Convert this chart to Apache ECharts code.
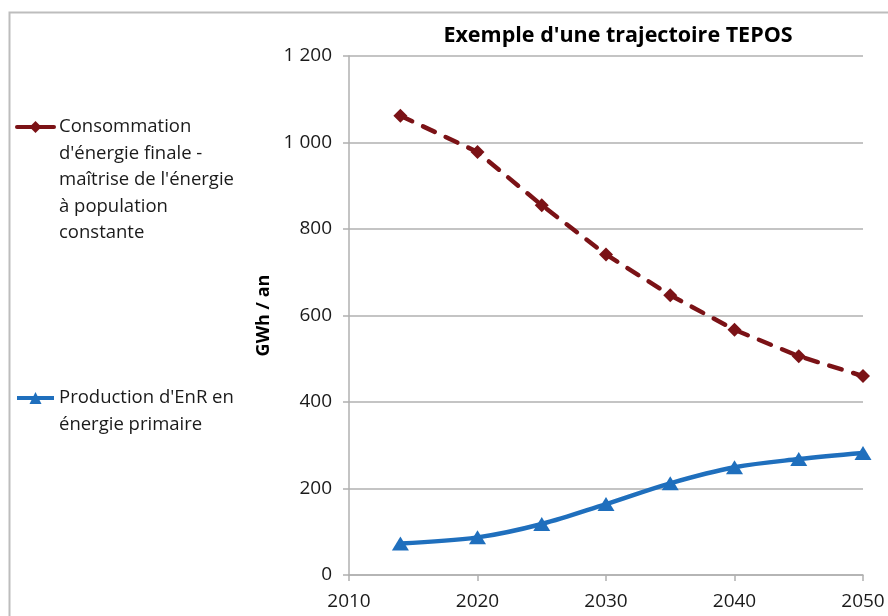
<!DOCTYPE html>
<html>
<head>
<meta charset="utf-8">
<script src="https://cdn.jsdelivr.net/npm/echarts@6/dist/echarts.min.js"></script>
<style>html,body{margin:0;padding:0;background:#fff}#c{width:888px;height:616px}</style>
</head>
<body>
<div id="c"></div>
<script>
const years = [2014, 2020, 2025, 2030, 2035, 2040, 2045, 2050];
const consommation = [1062, 978, 855, 741, 647, 567, 506, 460];
const production = [73, 87, 118, 164, 212, 249, 268, 282];
const nameConso = "Consommation d'énergie finale - maîtrise de l'énergie à population constante";
const nameProd = "Production d'EnR en énergie primaire";
const legendConsoLines = ["Consommation", "d'énergie finale -", "maîtrise de l'énergie", "à population", "constante"];
const legendProdLines = ["Production d'EnR en", "énergie primaire"];
const title = "Exemple d'une trajectoire TEPOS";
const yName = "GWh / an";

const FONT = "Open Sans";
const LH = 26.5;
const red = "#7b1216";
const blue = "#1f6fbd";
const grey = "#b0b0b0";

function legendFor(name, lines, iconY) {
  const n = lines.length;
  // blank lines before so that the icon sits on the first text line
  const padded = new Array(n - 1).fill('').concat(lines);
  const total = padded.length * LH;
  return {
    data: [name],
    left: 15,
    top: iconY - total / 2,
    orient: 'vertical',
    padding: 0,
    itemWidth: 37,
    itemHeight: 15,
    itemGap: 0,
    selectedMode: false,
    lineStyle: { type: 'solid', width: 4 },
    formatter: () => padded.join('\n'),
    textStyle: {
      fontFamily: FONT, fontSize: 18.5, color: '#1a1a1a',
      lineHeight: LH
    }
  };
}

const chart = echarts.init(document.getElementById('c'), null, { renderer: 'canvas' });
chart.setOption({
  animation: false,
  backgroundColor: '#fff',
  title: {
    text: title, left: 613, top: 20, textAlign: 'center',
    textStyle: { fontFamily: FONT, fontSize: 21.5, fontWeight: 'bold', color: '#000' }
  },
  graphic: [{
    type: 'rect', left: 7, top: 10, silent: true,
    shape: { width: 900, height: 700 },
    style: { fill: 'none', stroke: '#bdbdbd', lineWidth: 2 }
  }],
  legend: [legendFor(nameConso, legendConsoLines, 127), legendFor(nameProd, legendProdLines, 398)],
  grid: { left: 349, right: 25, top: 56, bottom: 41 },
  xAxis: {
    type: 'value', min: 2010, max: 2050, interval: 10,
    axisLine: { show: true, onZero: false, lineStyle: { color: grey, width: 1.5 } },
    axisTick: { show: true, length: 6, lineStyle: { color: grey, width: 1.5 } },
    splitLine: { show: false },
    axisLabel: { fontFamily: FONT, fontSize: 19, color: '#1a1a1a', margin: 17, formatter: v => String(v) }
  },
  yAxis: {
    type: 'value', min: 0, max: 1200, interval: 200,
    name: yName, nameLocation: 'middle', nameRotate: 90, nameGap: 72,
    nameTextStyle: { fontFamily: FONT, fontSize: 18, fontWeight: 'bold', color: '#000' },
    axisLine: { show: true, lineStyle: { color: grey, width: 1.5 } },
    axisTick: { show: true, length: 6, lineStyle: { color: grey, width: 1.5 } },
    splitLine: { show: true, lineStyle: { color: grey, width: 1.5 } },
    axisLabel: {
      fontFamily: FONT, fontSize: 19, color: '#1a1a1a', margin: 17,
      formatter: v => String(v).replace(/\B(?=(\d{3})+(?!\d))/g, ' ')
    }
  },
  series: [{
    name: nameConso, type: 'line',
    data: years.map((y, i) => [y, consommation[i]]),
    symbol: 'diamond', symbolSize: 14,
    itemStyle: { color: red },
    lineStyle: { color: red, width: 4.5, type: [13, 12], cap: 'round' }
  }, {
    name: nameProd, type: 'line', smooth: 0.35,
    data: years.map((y, i) => [y, production[i]]),
    symbol: 'triangle', symbolSize: [17, 14],
    itemStyle: { color: blue },
    lineStyle: { color: blue, width: 4.5 }
  }]
});
</script>
</body>
</html>
